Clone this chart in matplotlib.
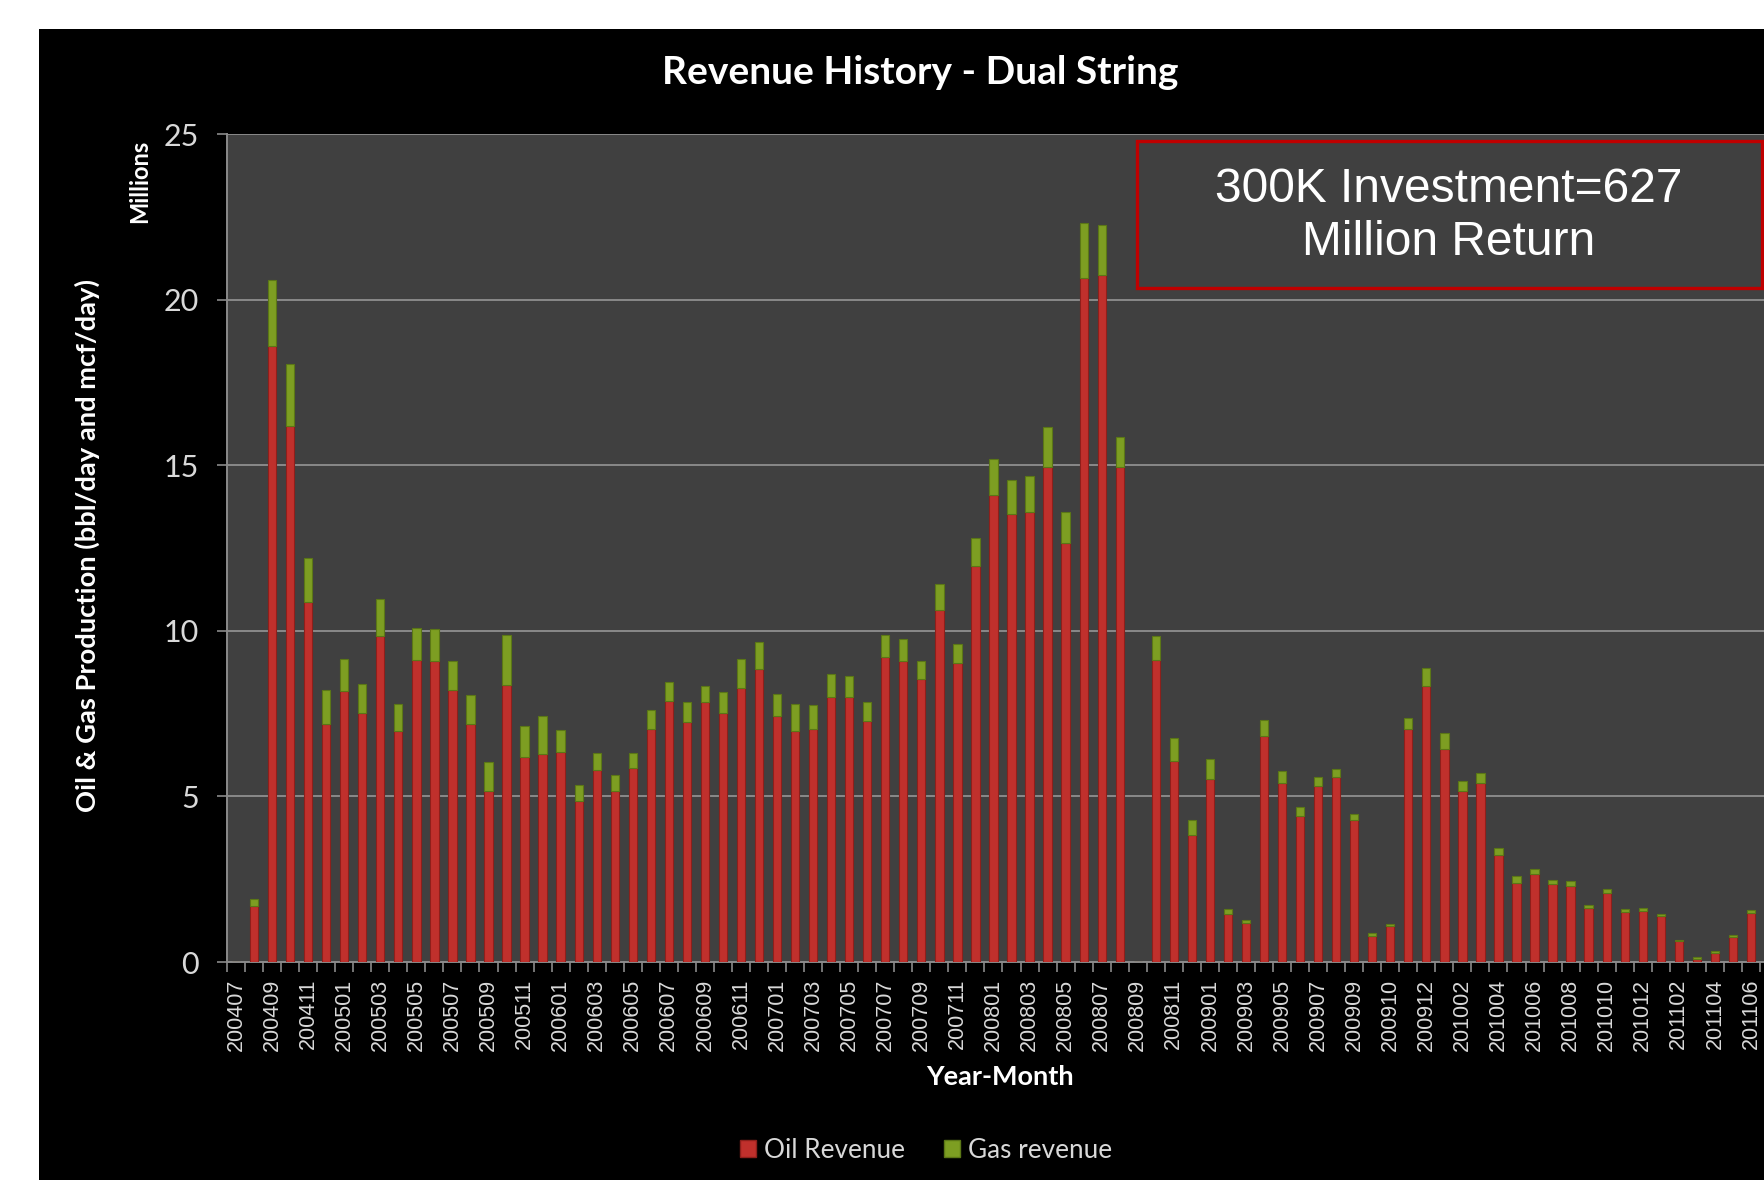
import matplotlib.pyplot as plt
from matplotlib.patches import Rectangle, Patch

W, H = 1765, 1180

months = [
    "200407", "200408", "200409", "200410", "200411", "200412",
    "200501", "200502", "200503", "200504", "200505", "200506",
    "200507", "200508", "200509", "200510", "200511", "200512",
    "200601", "200602", "200603", "200604", "200605", "200606",
    "200607", "200608", "200609", "200610", "200611", "200612",
    "200701", "200702", "200703", "200704", "200705", "200706",
    "200707", "200708", "200709", "200710", "200711", "200712",
    "200801", "200802", "200803", "200804", "200805", "200806",
    "200807", "200808", "200809", "200810", "200811", "200812",
    "200901", "200902", "200903", "200904", "200905", "200906",
    "200907", "200908", "200909", "200909", "200910", "200911",
    "200912", "201001", "201002", "201003", "201004", "201005",
    "201006", "201007", "201008", "201009", "201010", "201011",
    "201012", "201101", "201102", "201103", "201104", "201105",
    "201106",
]

# revenue in millions
oil = [
    0.00, 1.69, 18.60, 16.18, 10.88, 7.19, 8.17, 7.51, 9.84, 6.97,
    9.12, 9.08, 8.22, 7.19, 5.15, 8.36, 6.20, 6.29, 6.33, 4.85,
    5.80, 5.16, 5.86, 7.05, 7.87, 7.26, 7.86, 7.52, 8.27, 8.86,
    7.42, 6.97, 7.05, 7.99, 7.99, 7.28, 9.22, 9.08, 8.54, 10.64,
    9.02, 11.95, 14.11, 13.52, 13.58, 14.96, 12.64, 20.64, 20.74, 14.96,
    0.00, 9.13, 6.07, 3.82, 5.53, 1.45, 1.17, 6.83, 5.41, 4.41,
    5.31, 5.58, 4.29, 0.80, 1.09, 7.02, 8.33, 6.43, 5.17, 5.41,
    3.22, 2.40, 2.66, 2.36, 2.30, 1.64, 2.09, 1.50, 1.53, 1.39,
    0.62, 0.10, 0.28, 0.76, 1.49,
]
gas = [
    0.00, 0.22, 2.00, 1.87, 1.32, 1.01, 0.98, 0.87, 1.11, 0.83,
    0.97, 0.96, 0.88, 0.87, 0.90, 1.51, 0.92, 1.15, 0.67, 0.48,
    0.51, 0.48, 0.45, 0.56, 0.59, 0.58, 0.48, 0.63, 0.87, 0.79,
    0.68, 0.83, 0.70, 0.71, 0.66, 0.56, 0.65, 0.66, 0.56, 0.77,
    0.58, 0.84, 1.07, 1.03, 1.10, 1.20, 0.96, 1.68, 1.50, 0.89,
    0.00, 0.72, 0.68, 0.46, 0.60, 0.14, 0.10, 0.48, 0.36, 0.28,
    0.29, 0.25, 0.18, 0.07, 0.05, 0.34, 0.55, 0.47, 0.30, 0.29,
    0.21, 0.19, 0.15, 0.12, 0.15, 0.08, 0.12, 0.09, 0.09, 0.07,
    0.05, 0.04, 0.05, 0.06, 0.09,
]

red = "#c0302c"
green = "#7d9e22"
txt = "#d9d9d9"

fig = plt.figure(figsize=(W / 100, H / 100), dpi=100)
fig.patch.set_facecolor("white")
fig.add_artist(Rectangle((39 / W, 0), 1, 1 - 29 / H, transform=fig.transFigure,
                         facecolor="black", edgecolor="none", zorder=0))

ax = fig.add_axes([227 / W, 1 - 962 / H, (1778 - 227) / W, (962 - 134) / H])
ax.set_facecolor("#404040")

x = list(range(len(months)))
ax.bar(x, oil, width=0.46, color=red, edgecolor="#8e1f1b", linewidth=0.8, zorder=3)
ax.bar(x, gas, width=0.46, bottom=oil, color=green, edgecolor="#5b7716",
       linewidth=0.8, zorder=3)

ax.set_xlim(-0.5, len(months) + 0.5)
ax.set_ylim(0, 25)
ax.set_yticks([0, 5, 10, 15, 20, 25])
ax.yaxis.grid(True, color="#8a8a8a", linewidth=1.4, zorder=1)
ax.set_axisbelow(True)

ax.set_xticks(x[::2])
ax.set_xticklabels(months[::2], rotation=90, fontsize=15.5, color=txt,
                   family="Liberation Sans")
ax.set_xticks([i + 0.5 for i in range(-1, len(months))], minor=True)
ax.tick_params(axis="x", which="major", length=0, pad=12)
ax.tick_params(axis="x", which="minor", length=7, width=1.2, color="#8a8a8a")
ax.tick_params(axis="y", length=7, width=1.2, color="#8a8a8a", pad=13,
               labelsize=22, labelcolor=txt)
for lbl in ax.get_yticklabels():
    lbl.set_family("Lato")

for side in ["top", "right"]:
    ax.spines[side].set_visible(False)
for side in ["left", "bottom"]:
    ax.spines[side].set_color("#8a8a8a")
    ax.spines[side].set_linewidth(1.4)

fig.text(920 / W, 1 - 72 / H, "Revenue History - Dual String", ha="center",
         va="center", fontsize=28, fontweight="bold", color="white", family="Lato")
fig.text(87 / W, 1 - 546 / H, "Oil & Gas Production (bbl/day and mcf/day)",
         rotation=90, ha="center", va="center", fontsize=19.7, fontweight="bold",
         color="white", family="Lato")
fig.text(140 / W, 1 - 181 / H, "Millions", rotation=90, ha="center", va="center",
         fontsize=17, fontweight="bold", color="white", family="Lato")
fig.text(1000 / W, 1 - 1077 / H, "Year-Month", ha="center", va="center",
         fontsize=19.5, fontweight="bold", color="white", family="Lato")

# callout box
fig.add_artist(Rectangle((1137 / W, 1 - 288 / H), (1762 - 1137) / W, (288 - 141) / H,
                         transform=fig.transFigure, facecolor="#404040",
                         edgecolor="#c00000", linewidth=2.4, zorder=5))
fig.text(1449 / W, 1 - 216 / H, "300K Investment=627\nMillion Return", ha="center",
         va="center", fontsize=34.5, color="white", family="Liberation Sans",
         linespacing=1.22, zorder=6)

handles = [Patch(facecolor=red, edgecolor="#8e1f1b", label="Oil Revenue"),
           Patch(facecolor=green, edgecolor="#5b7716", label="Gas revenue")]
leg = fig.legend(handles=handles, loc="center", bbox_to_anchor=(926 / W, 1 - 1150 / H),
                 ncol=2, frameon=False, handlelength=0.6,
                 handleheight=0.6, handletextpad=0.3, columnspacing=1.5,
                 prop={"family": "Lato", "size": 18.8})
for t in leg.get_texts():
    t.set_color(txt)

fig.savefig("out.png", dpi=100, facecolor=fig.get_facecolor())
